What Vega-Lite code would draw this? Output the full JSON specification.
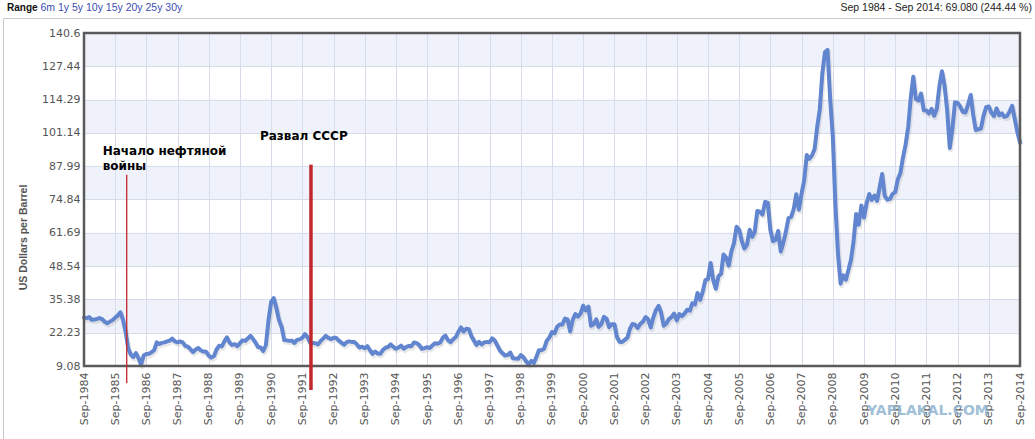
{
  "$schema": "https://vega.github.io/schema/vega-lite/v6.json",
  "width": 936,
  "height": 333,
  "autosize": "none",
  "padding": {"left": 84, "top": 33, "right": 15, "bottom": 73},
  "background": "white",
  "config": {"view": {"stroke": null}},
  "encoding": {
    "x": {
      "field": "d",
      "type": "temporal",
      "scale": {"type": "utc", "domain": [{"year": 1984, "month": 9, "date": 1, "utc": true}, {"year": 2014, "month": 9, "date": 1, "utc": true}]},
      "axis": {
        "title": null,
        "values": [
          {"year": 1984, "month": 9, "date": 1, "utc": true}, {"year": 1985, "month": 9, "date": 1, "utc": true},
          {"year": 1986, "month": 9, "date": 1, "utc": true}, {"year": 1987, "month": 9, "date": 1, "utc": true},
          {"year": 1988, "month": 9, "date": 1, "utc": true}, {"year": 1989, "month": 9, "date": 1, "utc": true},
          {"year": 1990, "month": 9, "date": 1, "utc": true}, {"year": 1991, "month": 9, "date": 1, "utc": true},
          {"year": 1992, "month": 9, "date": 1, "utc": true}, {"year": 1993, "month": 9, "date": 1, "utc": true},
          {"year": 1994, "month": 9, "date": 1, "utc": true}, {"year": 1995, "month": 9, "date": 1, "utc": true},
          {"year": 1996, "month": 9, "date": 1, "utc": true}, {"year": 1997, "month": 9, "date": 1, "utc": true},
          {"year": 1998, "month": 9, "date": 1, "utc": true}, {"year": 1999, "month": 9, "date": 1, "utc": true},
          {"year": 2000, "month": 9, "date": 1, "utc": true}, {"year": 2001, "month": 9, "date": 1, "utc": true},
          {"year": 2002, "month": 9, "date": 1, "utc": true}, {"year": 2003, "month": 9, "date": 1, "utc": true},
          {"year": 2004, "month": 9, "date": 1, "utc": true}, {"year": 2005, "month": 9, "date": 1, "utc": true},
          {"year": 2006, "month": 9, "date": 1, "utc": true}, {"year": 2007, "month": 9, "date": 1, "utc": true},
          {"year": 2008, "month": 9, "date": 1, "utc": true}, {"year": 2009, "month": 9, "date": 1, "utc": true},
          {"year": 2010, "month": 9, "date": 1, "utc": true}, {"year": 2011, "month": 9, "date": 1, "utc": true},
          {"year": 2012, "month": 9, "date": 1, "utc": true}, {"year": 2013, "month": 9, "date": 1, "utc": true},
          {"year": 2014, "month": 9, "date": 1, "utc": true}
        ],
        "labelExpr": "utcFormat(datum.value, '%b-%Y')",
        "labelAngle": 270,
        "labelFlush": false,
        "labelOverlap": false,
        "labelFont": "DejaVu Sans",
        "labelFontSize": 11,
        "labelColor": "#555555",
        "labelPadding": 6,
        "ticks": false,
        "domain": false,
        "grid": true,
        "gridColor": "#d5dbe7"
      }
    },
    "y": {
      "field": "p",
      "type": "quantitative",
      "scale": {"domain": [9.08, 140.6], "nice": false, "zero": false},
      "axis": {
        "values": [9.08, 22.23, 35.38, 48.54, 61.69, 74.84, 87.99, 101.14, 114.29, 127.44, 140.6],
        "labelExpr": "'' + datum.value",
        "labelFont": "DejaVu Sans",
        "labelFontSize": 11,
        "labelColor": "#555555",
        "labelPadding": 4,
        "ticks": false,
        "domain": false,
        "grid": true,
        "gridColor": "#d5dbe7",
        "title": "US Dollars per Barrel",
        "titleFont": "Liberation Sans",
        "titleFontSize": 10.5,
        "titleFontWeight": "bold",
        "titleColor": "#555555",
        "titleAngle": 270,
        "titleAlign": "center",
        "titleBaseline": "bottom",
        "titleX": -56,
        "titleY": 204
      }
    }
  },
  "layer": [
    {
      "data": {
        "values": [
          {"d": "1984-09-01", "d2": "2014-09-01", "p": 22.23, "p2": 35.38},
          {"d": "1984-09-01", "d2": "2014-09-01", "p": 48.54, "p2": 61.69},
          {"d": "1984-09-01", "d2": "2014-09-01", "p": 74.84, "p2": 87.99},
          {"d": "1984-09-01", "d2": "2014-09-01", "p": 101.14, "p2": 114.29},
          {"d": "1984-09-01", "d2": "2014-09-01", "p": 127.44, "p2": 140.6}
        ],
        "format": {"parse": {"d": "utc:'%Y-%m-%d'", "d2": "utc:'%Y-%m-%d'"}}
      },
      "mark": {"type": "rect", "fill": "#dce3f5", "fillOpacity": 0.45},
      "encoding": {"x2": {"field": "d2"}, "y2": {"field": "p2"}}
    },
    {
      "data": {"name": "oil"},
      "mark": {"type": "line", "color": "#8a8a8a", "strokeWidth": 5, "opacity": 0.2, "xOffset": 1, "yOffset": 2, "strokeJoin": "round"}
    },
    {
      "data": {"name": "oil"},
      "mark": {"type": "line", "color": "#6285cf", "strokeWidth": 4, "strokeJoin": "round", "strokeCap": "round"}
    },
    {
      "data": {
        "values": [{"d": "1984-09-01", "d2": "2014-09-01", "p": 9.08, "p2": 140.6}],
        "format": {"parse": {"d": "utc:'%Y-%m-%d'", "d2": "utc:'%Y-%m-%d'"}}
      },
      "mark": {"type": "rect", "fillOpacity": 0, "stroke": "#5a5a5a", "strokeWidth": 2.5},
      "encoding": {"x2": {"field": "d2"}, "y2": {"field": "p2"}}
    },
    {
      "data": {
        "values": [{"d": "1986-01-14", "p": 84.6, "p2": 2.3}],
        "format": {"parse": {"d": "utc:'%Y-%m-%d'"}}
      },
      "mark": {"type": "rule", "color": "#c1272d", "strokeWidth": 1.3},
      "encoding": {"y2": {"field": "p2"}}
    },
    {
      "data": {
        "values": [{"d": "1991-12-11", "p": 88.6, "p2": -0.4}],
        "format": {"parse": {"d": "utc:'%Y-%m-%d'"}}
      },
      "mark": {"type": "rule", "color": "#c1272d", "strokeWidth": 3.5},
      "encoding": {"y2": {"field": "p2"}}
    },
    {
      "data": {
        "values": [
          {"label": "Начало нефтяной\nвойны", "d": "1985-04-08", "p": 92.5},
          {"label": "Развал СССР", "d": "1990-04-23", "p": 98.5}
        ],
        "format": {"parse": {"d": "utc:'%Y-%m-%d'"}}
      },
      "mark": {"type": "text", "align": "left", "baseline": "alphabetic", "lineBreak": "\n", "lineHeight": 15, "font": "DejaVu Sans", "fontSize": 12, "fontWeight": "bold", "color": "#000000"},
      "encoding": {"text": {"field": "label"}}
    },
    {
      "data": {
        "values": [{"d": "1982-02-02", "d2": "2015-01-19", "p": 146.3}],
        "format": {"parse": {"d": "utc:'%Y-%m-%d'", "d2": "utc:'%Y-%m-%d'"}}
      },
      "mark": {"type": "rule", "color": "#c8c8c8", "strokeWidth": 1},
      "encoding": {"x2": {"field": "d2"}}
    },
    {
      "data": {
        "values": [{"d": "1982-02-02", "p": 146.3, "p2": -19.8}],
        "format": {"parse": {"d": "utc:'%Y-%m-%d'"}}
      },
      "mark": {"type": "rule", "color": "#c8c8c8", "strokeWidth": 1},
      "encoding": {"y2": {"field": "p2"}}
    },
    {
      "data": {
        "values": [{"label": "Range", "d": "1982-03-15", "p": 149.1}],
        "format": {"parse": {"d": "utc:'%Y-%m-%d'"}}
      },
      "mark": {"type": "text", "align": "left", "baseline": "alphabetic", "font": "Liberation Sans", "fontSize": 10, "fontWeight": "bold", "color": "#111111"},
      "encoding": {"text": {"field": "label"}}
    },
    {
      "data": {
        "values": [{"label": "6m 1y 5y 10y 15y 20y 25y 30y", "d": "1983-04-10", "p": 149.1}],
        "format": {"parse": {"d": "utc:'%Y-%m-%d'"}}
      },
      "mark": {"type": "text", "align": "left", "baseline": "alphabetic", "font": "Liberation Sans", "fontSize": 10.5, "color": "#3a4cb0"},
      "encoding": {"text": {"field": "label"}}
    },
    {
      "data": {
        "values": [{"label": "Sep 1984 - Sep 2014: 69.080 (244.44 %)", "d": "2015-01-19", "p": 149.1}],
        "format": {"parse": {"d": "utc:'%Y-%m-%d'"}}
      },
      "mark": {"type": "text", "align": "right", "baseline": "alphabetic", "font": "Liberation Sans", "fontSize": 10.5, "color": "#222222"},
      "encoding": {"text": {"field": "label"}}
    },
    {
      "data": {
        "values": [{"label": "YAPLAKAL.COM", "d": "2011-09-19", "p": -10.3}],
        "format": {"parse": {"d": "utc:'%Y-%m-%d'"}}
      },
      "mark": {"type": "text", "align": "center", "baseline": "alphabetic", "font": "DejaVu Sans", "fontSize": 14, "fontWeight": "bold", "color": "#8fb4d0", "opacity": 0.85},
      "encoding": {"text": {"field": "label"}}
    }
  ],
  "datasets": {
    "oil": [
      {"d": "1984-09-01", "p": 28.26}, {"d": "1984-10-01", "p": 28.0}, {"d": "1984-11-01", "p": 28.4}, {"d": "1984-12-01", "p": 27.3},
      {"d": "1985-01-01", "p": 27.4}, {"d": "1985-02-01", "p": 27.7}, {"d": "1985-03-01", "p": 28.0}, {"d": "1985-04-01", "p": 27.6},
      {"d": "1985-05-01", "p": 26.6}, {"d": "1985-06-01", "p": 26.0}, {"d": "1985-07-01", "p": 26.6}, {"d": "1985-08-01", "p": 27.2},
      {"d": "1985-09-01", "p": 28.2}, {"d": "1985-10-01", "p": 29.0}, {"d": "1985-11-01", "p": 30.3}, {"d": "1985-12-01", "p": 27.4},
      {"d": "1986-01-01", "p": 22.6}, {"d": "1986-02-01", "p": 16.0}, {"d": "1986-03-01", "p": 13.7}, {"d": "1986-04-01", "p": 12.6},
      {"d": "1986-05-01", "p": 14.2}, {"d": "1986-06-01", "p": 12.2}, {"d": "1986-07-01", "p": 9.6}, {"d": "1986-08-01", "p": 13.2},
      {"d": "1986-09-01", "p": 13.8}, {"d": "1986-10-01", "p": 13.9}, {"d": "1986-11-01", "p": 14.5}, {"d": "1986-12-01", "p": 15.3},
      {"d": "1987-01-01", "p": 18.4}, {"d": "1987-02-01", "p": 17.8}, {"d": "1987-03-01", "p": 18.2}, {"d": "1987-04-01", "p": 18.4},
      {"d": "1987-05-01", "p": 18.8}, {"d": "1987-06-01", "p": 19.1}, {"d": "1987-07-01", "p": 19.9}, {"d": "1987-08-01", "p": 18.8},
      {"d": "1987-09-01", "p": 18.4}, {"d": "1987-10-01", "p": 18.8}, {"d": "1987-11-01", "p": 18.4}, {"d": "1987-12-01", "p": 17.0},
      {"d": "1988-01-01", "p": 16.7}, {"d": "1988-02-01", "p": 15.6}, {"d": "1988-03-01", "p": 14.6}, {"d": "1988-04-01", "p": 15.6},
      {"d": "1988-05-01", "p": 16.2}, {"d": "1988-06-01", "p": 15.2}, {"d": "1988-07-01", "p": 14.8}, {"d": "1988-08-01", "p": 14.7},
      {"d": "1988-09-01", "p": 13.2}, {"d": "1988-10-01", "p": 12.4}, {"d": "1988-11-01", "p": 13.0}, {"d": "1988-12-01", "p": 15.6},
      {"d": "1989-01-01", "p": 17.1}, {"d": "1989-02-01", "p": 16.8}, {"d": "1989-03-01", "p": 18.7}, {"d": "1989-04-01", "p": 20.4},
      {"d": "1989-05-01", "p": 18.4}, {"d": "1989-06-01", "p": 17.4}, {"d": "1989-07-01", "p": 17.7}, {"d": "1989-08-01", "p": 16.9},
      {"d": "1989-09-01", "p": 18.1}, {"d": "1989-10-01", "p": 19.2}, {"d": "1989-11-01", "p": 19.0}, {"d": "1989-12-01", "p": 19.9},
      {"d": "1990-01-01", "p": 21.0}, {"d": "1990-02-01", "p": 19.7}, {"d": "1990-03-01", "p": 18.4}, {"d": "1990-04-01", "p": 16.6},
      {"d": "1990-05-01", "p": 16.4}, {"d": "1990-06-01", "p": 15.0}, {"d": "1990-07-01", "p": 17.3}, {"d": "1990-08-01", "p": 27.2},
      {"d": "1990-09-01", "p": 34.4}, {"d": "1990-10-01", "p": 35.9}, {"d": "1990-11-01", "p": 32.0}, {"d": "1990-12-01", "p": 27.3},
      {"d": "1991-01-01", "p": 24.6}, {"d": "1991-02-01", "p": 19.3}, {"d": "1991-03-01", "p": 19.2}, {"d": "1991-04-01", "p": 19.0},
      {"d": "1991-05-01", "p": 19.1}, {"d": "1991-06-01", "p": 18.2}, {"d": "1991-07-01", "p": 19.4}, {"d": "1991-08-01", "p": 19.6},
      {"d": "1991-09-01", "p": 20.2}, {"d": "1991-10-01", "p": 21.7}, {"d": "1991-11-01", "p": 20.5}, {"d": "1991-12-01", "p": 18.3},
      {"d": "1992-01-01", "p": 18.2}, {"d": "1992-02-01", "p": 18.1}, {"d": "1992-03-01", "p": 17.6}, {"d": "1992-04-01", "p": 18.9},
      {"d": "1992-05-01", "p": 19.9}, {"d": "1992-06-01", "p": 21.0}, {"d": "1992-07-01", "p": 20.2}, {"d": "1992-08-01", "p": 19.7},
      {"d": "1992-09-01", "p": 20.2}, {"d": "1992-10-01", "p": 20.2}, {"d": "1992-11-01", "p": 19.1}, {"d": "1992-12-01", "p": 18.3},
      {"d": "1993-01-01", "p": 17.5}, {"d": "1993-02-01", "p": 18.5}, {"d": "1993-03-01", "p": 18.8}, {"d": "1993-04-01", "p": 18.6},
      {"d": "1993-05-01", "p": 18.6}, {"d": "1993-06-01", "p": 17.6}, {"d": "1993-07-01", "p": 16.4}, {"d": "1993-08-01", "p": 16.7},
      {"d": "1993-09-01", "p": 16.1}, {"d": "1993-10-01", "p": 16.9}, {"d": "1993-11-01", "p": 15.3}, {"d": "1993-12-01", "p": 13.9},
      {"d": "1994-01-01", "p": 14.8}, {"d": "1994-02-01", "p": 14.0}, {"d": "1994-03-01", "p": 13.9}, {"d": "1994-04-01", "p": 15.4},
      {"d": "1994-05-01", "p": 16.3}, {"d": "1994-06-01", "p": 16.6}, {"d": "1994-07-01", "p": 17.6}, {"d": "1994-08-01", "p": 16.6},
      {"d": "1994-09-01", "p": 15.9}, {"d": "1994-10-01", "p": 16.4}, {"d": "1994-11-01", "p": 17.1}, {"d": "1994-12-01", "p": 15.9},
      {"d": "1995-01-01", "p": 16.6}, {"d": "1995-02-01", "p": 17.0}, {"d": "1995-03-01", "p": 16.9}, {"d": "1995-04-01", "p": 18.4},
      {"d": "1995-05-01", "p": 18.1}, {"d": "1995-06-01", "p": 17.3}, {"d": "1995-07-01", "p": 15.9}, {"d": "1995-08-01", "p": 16.1},
      {"d": "1995-09-01", "p": 16.5}, {"d": "1995-10-01", "p": 16.2}, {"d": "1995-11-01", "p": 17.2}, {"d": "1995-12-01", "p": 18.1},
      {"d": "1996-01-01", "p": 17.9}, {"d": "1996-02-01", "p": 18.3}, {"d": "1996-03-01", "p": 20.2}, {"d": "1996-04-01", "p": 21.1},
      {"d": "1996-05-01", "p": 19.3}, {"d": "1996-06-01", "p": 18.5}, {"d": "1996-07-01", "p": 19.6}, {"d": "1996-08-01", "p": 20.5},
      {"d": "1996-09-01", "p": 22.6}, {"d": "1996-10-01", "p": 24.3}, {"d": "1996-11-01", "p": 22.7}, {"d": "1996-12-01", "p": 23.8},
      {"d": "1997-01-01", "p": 23.6}, {"d": "1997-02-01", "p": 20.8}, {"d": "1997-03-01", "p": 19.2}, {"d": "1997-04-01", "p": 17.4},
      {"d": "1997-05-01", "p": 18.6}, {"d": "1997-06-01", "p": 17.6}, {"d": "1997-07-01", "p": 18.4}, {"d": "1997-08-01", "p": 18.6},
      {"d": "1997-09-01", "p": 18.5}, {"d": "1997-10-01", "p": 20.0}, {"d": "1997-11-01", "p": 19.1}, {"d": "1997-12-01", "p": 17.2},
      {"d": "1998-01-01", "p": 15.2}, {"d": "1998-02-01", "p": 14.1}, {"d": "1998-03-01", "p": 13.2}, {"d": "1998-04-01", "p": 13.4},
      {"d": "1998-05-01", "p": 14.4}, {"d": "1998-06-01", "p": 12.1}, {"d": "1998-07-01", "p": 12.0}, {"d": "1998-08-01", "p": 11.9},
      {"d": "1998-09-01", "p": 13.4}, {"d": "1998-10-01", "p": 12.6}, {"d": "1998-11-01", "p": 11.0}, {"d": "1998-12-01", "p": 9.8},
      {"d": "1999-01-01", "p": 11.1}, {"d": "1999-02-01", "p": 10.3}, {"d": "1999-03-01", "p": 12.5}, {"d": "1999-04-01", "p": 15.3},
      {"d": "1999-05-01", "p": 15.3}, {"d": "1999-06-01", "p": 15.9}, {"d": "1999-07-01", "p": 19.0}, {"d": "1999-08-01", "p": 20.3},
      {"d": "1999-09-01", "p": 22.5}, {"d": "1999-10-01", "p": 22.0}, {"d": "1999-11-01", "p": 24.6}, {"d": "1999-12-01", "p": 25.5},
      {"d": "2000-01-01", "p": 25.5}, {"d": "2000-02-01", "p": 27.8}, {"d": "2000-03-01", "p": 27.5}, {"d": "2000-04-01", "p": 22.8},
      {"d": "2000-05-01", "p": 27.3}, {"d": "2000-06-01", "p": 29.6}, {"d": "2000-07-01", "p": 28.6}, {"d": "2000-08-01", "p": 29.8},
      {"d": "2000-09-01", "p": 32.9}, {"d": "2000-10-01", "p": 31.0}, {"d": "2000-11-01", "p": 32.5}, {"d": "2000-12-01", "p": 25.0},
      {"d": "2001-01-01", "p": 25.6}, {"d": "2001-02-01", "p": 27.5}, {"d": "2001-03-01", "p": 24.5}, {"d": "2001-04-01", "p": 25.6},
      {"d": "2001-05-01", "p": 28.5}, {"d": "2001-06-01", "p": 27.8}, {"d": "2001-07-01", "p": 24.4}, {"d": "2001-08-01", "p": 25.6},
      {"d": "2001-09-01", "p": 25.6}, {"d": "2001-10-01", "p": 20.5}, {"d": "2001-11-01", "p": 18.7}, {"d": "2001-12-01", "p": 18.6},
      {"d": "2002-01-01", "p": 19.4}, {"d": "2002-02-01", "p": 20.3}, {"d": "2002-03-01", "p": 23.7}, {"d": "2002-04-01", "p": 25.7},
      {"d": "2002-05-01", "p": 25.4}, {"d": "2002-06-01", "p": 24.1}, {"d": "2002-07-01", "p": 25.7}, {"d": "2002-08-01", "p": 26.6},
      {"d": "2002-09-01", "p": 28.4}, {"d": "2002-10-01", "p": 27.5}, {"d": "2002-11-01", "p": 24.3}, {"d": "2002-12-01", "p": 28.3},
      {"d": "2003-01-01", "p": 31.2}, {"d": "2003-02-01", "p": 32.8}, {"d": "2003-03-01", "p": 30.3}, {"d": "2003-04-01", "p": 25.0},
      {"d": "2003-05-01", "p": 25.8}, {"d": "2003-06-01", "p": 27.6}, {"d": "2003-07-01", "p": 28.4}, {"d": "2003-08-01", "p": 29.8},
      {"d": "2003-09-01", "p": 27.1}, {"d": "2003-10-01", "p": 29.6}, {"d": "2003-11-01", "p": 28.8}, {"d": "2003-12-01", "p": 29.8},
      {"d": "2004-01-01", "p": 31.3}, {"d": "2004-02-01", "p": 30.9}, {"d": "2004-03-01", "p": 33.8}, {"d": "2004-04-01", "p": 33.4},
      {"d": "2004-05-01", "p": 37.9}, {"d": "2004-06-01", "p": 35.2}, {"d": "2004-07-01", "p": 38.4}, {"d": "2004-08-01", "p": 43.0},
      {"d": "2004-09-01", "p": 43.4}, {"d": "2004-10-01", "p": 49.8}, {"d": "2004-11-01", "p": 43.1}, {"d": "2004-12-01", "p": 39.6},
      {"d": "2005-01-01", "p": 44.5}, {"d": "2005-02-01", "p": 45.5}, {"d": "2005-03-01", "p": 53.1}, {"d": "2005-04-01", "p": 51.9},
      {"d": "2005-05-01", "p": 48.7}, {"d": "2005-06-01", "p": 54.3}, {"d": "2005-07-01", "p": 57.5}, {"d": "2005-08-01", "p": 64.1},
      {"d": "2005-09-01", "p": 62.9}, {"d": "2005-10-01", "p": 58.5}, {"d": "2005-11-01", "p": 55.5}, {"d": "2005-12-01", "p": 56.9},
      {"d": "2006-01-01", "p": 62.9}, {"d": "2006-02-01", "p": 60.1}, {"d": "2006-03-01", "p": 62.0}, {"d": "2006-04-01", "p": 70.3},
      {"d": "2006-05-01", "p": 70.0}, {"d": "2006-06-01", "p": 68.9}, {"d": "2006-07-01", "p": 73.9}, {"d": "2006-08-01", "p": 73.6},
      {"d": "2006-09-01", "p": 62.8}, {"d": "2006-10-01", "p": 58.4}, {"d": "2006-11-01", "p": 58.9}, {"d": "2006-12-01", "p": 62.4},
      {"d": "2007-01-01", "p": 54.3}, {"d": "2007-02-01", "p": 58.0}, {"d": "2007-03-01", "p": 62.1}, {"d": "2007-04-01", "p": 67.5},
      {"d": "2007-05-01", "p": 67.9}, {"d": "2007-06-01", "p": 71.0}, {"d": "2007-07-01", "p": 76.9}, {"d": "2007-08-01", "p": 70.8},
      {"d": "2007-09-01", "p": 77.2}, {"d": "2007-10-01", "p": 82.3}, {"d": "2007-11-01", "p": 92.4}, {"d": "2007-12-01", "p": 90.9},
      {"d": "2008-01-01", "p": 92.2}, {"d": "2008-02-01", "p": 94.8}, {"d": "2008-03-01", "p": 103.3}, {"d": "2008-04-01", "p": 110.4},
      {"d": "2008-05-01", "p": 124.6}, {"d": "2008-06-01", "p": 133.0}, {"d": "2008-07-01", "p": 133.9}, {"d": "2008-08-01", "p": 114.6},
      {"d": "2008-09-01", "p": 99.6}, {"d": "2008-10-01", "p": 72.8}, {"d": "2008-11-01", "p": 53.2}, {"d": "2008-12-01", "p": 41.6},
      {"d": "2009-01-01", "p": 44.9}, {"d": "2009-02-01", "p": 43.1}, {"d": "2009-03-01", "p": 46.8}, {"d": "2009-04-01", "p": 50.9},
      {"d": "2009-05-01", "p": 58.1}, {"d": "2009-06-01", "p": 69.1}, {"d": "2009-07-01", "p": 64.9}, {"d": "2009-08-01", "p": 72.5},
      {"d": "2009-09-01", "p": 67.7}, {"d": "2009-10-01", "p": 73.2}, {"d": "2009-11-01", "p": 77.0}, {"d": "2009-12-01", "p": 74.7},
      {"d": "2010-01-01", "p": 76.4}, {"d": "2010-02-01", "p": 74.3}, {"d": "2010-03-01", "p": 79.3}, {"d": "2010-04-01", "p": 84.9},
      {"d": "2010-05-01", "p": 76.3}, {"d": "2010-06-01", "p": 74.8}, {"d": "2010-07-01", "p": 75.0}, {"d": "2010-08-01", "p": 77.0},
      {"d": "2010-09-01", "p": 77.8}, {"d": "2010-10-01", "p": 82.7}, {"d": "2010-11-01", "p": 85.3}, {"d": "2010-12-01", "p": 91.4},
      {"d": "2011-01-01", "p": 96.5}, {"d": "2011-02-01", "p": 103.7}, {"d": "2011-03-01", "p": 114.6}, {"d": "2011-04-01", "p": 123.3},
      {"d": "2011-05-01", "p": 114.5}, {"d": "2011-06-01", "p": 113.9}, {"d": "2011-07-01", "p": 116.7}, {"d": "2011-08-01", "p": 110.1},
      {"d": "2011-09-01", "p": 110.0}, {"d": "2011-10-01", "p": 108.8}, {"d": "2011-11-01", "p": 110.6}, {"d": "2011-12-01", "p": 107.9},
      {"d": "2012-01-01", "p": 110.7}, {"d": "2012-02-01", "p": 119.7}, {"d": "2012-03-01", "p": 125.5}, {"d": "2012-04-01", "p": 119.8},
      {"d": "2012-05-01", "p": 110.3}, {"d": "2012-06-01", "p": 95.2}, {"d": "2012-07-01", "p": 102.6}, {"d": "2012-08-01", "p": 113.2},
      {"d": "2012-09-01", "p": 113.0}, {"d": "2012-10-01", "p": 111.5}, {"d": "2012-11-01", "p": 109.5}, {"d": "2012-12-01", "p": 109.2},
      {"d": "2013-01-01", "p": 112.3}, {"d": "2013-02-01", "p": 116.1}, {"d": "2013-03-01", "p": 108.5}, {"d": "2013-04-01", "p": 102.3},
      {"d": "2013-05-01", "p": 102.6}, {"d": "2013-06-01", "p": 102.9}, {"d": "2013-07-01", "p": 107.9}, {"d": "2013-08-01", "p": 111.3},
      {"d": "2013-09-01", "p": 111.6}, {"d": "2013-10-01", "p": 109.1}, {"d": "2013-11-01", "p": 107.8}, {"d": "2013-12-01", "p": 110.8},
      {"d": "2014-01-01", "p": 108.1}, {"d": "2014-02-01", "p": 108.9}, {"d": "2014-03-01", "p": 107.5}, {"d": "2014-04-01", "p": 107.8},
      {"d": "2014-05-01", "p": 109.5}, {"d": "2014-06-01", "p": 111.8}, {"d": "2014-07-01", "p": 106.8}, {"d": "2014-08-01", "p": 101.6},
      {"d": "2014-09-01", "p": 97.34}
    ]
  }
}
